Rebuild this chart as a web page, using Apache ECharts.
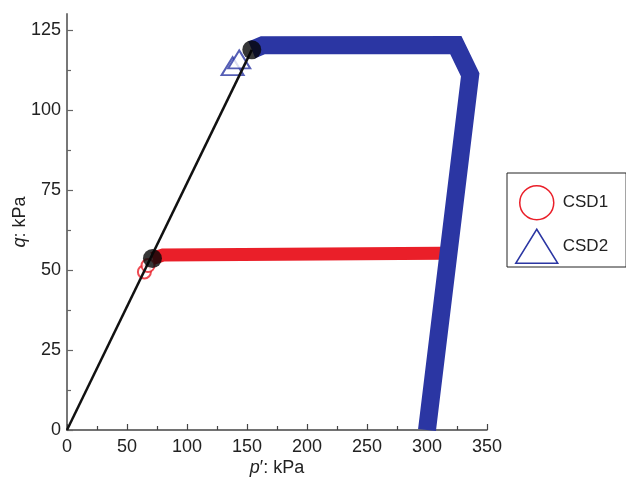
<!DOCTYPE html>
<html>
<head>
<meta charset="utf-8">
<script src="https://cdn.jsdelivr.net/npm/echarts@6/dist/echarts.min.js"></script>
<style>
  html, body { margin: 0; padding: 0; background: #fff; }
  #chart { width: 626px; height: 485px; }
</style>
</head>
<body>
<div id="chart"></div>
<script>
// Stress paths in p'-q space (kPa)
const csd1StartP = [64.5, 67.5];
const csd1StartQ = [49.4, 51.4];
const csd1PathP = [71.2, 80, 312];
const csd1PathQ = [53.6, 54.7, 55.2];

const csd2StartP = [138, 143.5];
const csd2StartQ = [113.7, 115.8];
const csd2PathP = [154, 163, 324, 336, 300];
const csd2PathQ = [118.8, 120.2, 120.3, 111, 0];

// Critical state line and peak points
const cslP = [0, 154];
const cslQ = [0, 118.8];
const peakP = [71.2, 154];
const peakQ = [53.6, 118.8];

// Axis ticks
const xTicks = [0, 50, 100, 150, 200, 250, 300, 350];
const yTicks = [0, 25, 50, 75, 100, 125];

const pairs = (xs, ys) => xs.map((x, i) => [x, ys[i]]);

const RED = '#ea1f29';
const BLUE = '#2b36a3';
const FONT = 'Liberation Sans, Arial, sans-serif';

const chart = echarts.init(document.getElementById('chart'), null, { renderer: 'canvas' });

chart.setOption({
  backgroundColor: '#fff',
  animation: false,
  textStyle: { fontFamily: FONT },
  grid: { left: 67, right: 139, top: 14, bottom: 55, containLabel: false, outerBoundsMode: 'none' },
  legend: {
    orient: 'vertical',
    left: 507,
    top: 173,
    borderColor: '#222',
    borderWidth: 1,
    padding: [12, 18, 3, 8],
    itemWidth: 42,
    itemHeight: 34,
    itemGap: 8,
    textStyle: { fontSize: 17, color: '#222', fontFamily: FONT },
    data: [
      { name: 'CSD1', icon: 'circle',
        itemStyle: { color: 'rgba(255,255,255,0)', borderColor: RED, borderWidth: 1.5 } },
      { name: 'CSD2', icon: 'triangle',
        itemStyle: { color: 'rgba(255,255,255,0)', borderColor: BLUE, borderWidth: 1.5 } }
    ]
  },
  xAxis: {
    type: 'value',
    min: 0,
    max: 350,
    interval: 50,
    name: '{i|p}\u2032: kPa',
    nameLocation: 'middle',
    nameGap: 29,
    nameMoveOverlap: false,
    nameTextStyle: {
      fontSize: 18, color: '#222', fontFamily: FONT,
      rich: { i: { fontStyle: 'italic', fontSize: 18, color: '#222', fontFamily: FONT } }
    },
    axisLine: { lineStyle: { color: '#444', width: 1.5 } },
    axisTick: { inside: true, length: 6, lineStyle: { color: '#444', width: 1.2 }, customValues: xTicks },
    minorTick: { show: true, splitNumber: 2, length: 4, lineStyle: { color: '#444', width: 1.2 } },
    axisLabel: { fontSize: 18, color: '#222', margin: 8, customValues: xTicks },
    splitLine: { show: false }
  },
  yAxis: {
    type: 'value',
    min: 0,
    max: 130,
    interval: 25,
    name: '{i|q}: kPa',
    nameLocation: 'middle',
    nameGap: 38,
    nameMoveOverlap: false,
    nameRotate: 90,
    nameTextStyle: {
      fontSize: 18, color: '#222', fontFamily: FONT,
      rich: { i: { fontStyle: 'italic', fontSize: 18, color: '#222', fontFamily: FONT } }
    },
    axisLine: { lineStyle: { color: '#777', width: 2 } },
    axisTick: { inside: true, length: 6, lineStyle: { color: '#666', width: 1.2 }, customValues: yTicks },
    minorTick: { show: true, splitNumber: 2, length: 4, lineStyle: { color: '#666', width: 1.2 } },
    axisLabel: { fontSize: 18, color: '#222', margin: 6, customValues: yTicks },
    splitLine: { show: false }
  },
  series: [
    {
      name: 'CSD1',
      type: 'line',
      data: pairs(csd1PathP, csd1PathQ),
      symbol: 'none',
      clip: true,
      lineStyle: { color: RED, width: 13, cap: 'butt', join: 'miter' },
      itemStyle: { color: RED },
      z: 2
    },
    {
      name: 'CSD1',
      type: 'scatter',
      data: pairs(csd1StartP, csd1StartQ),
      symbol: 'emptyCircle',
      symbolSize: 13,
      itemStyle: { color: RED, borderColor: RED, borderWidth: 1.2 },
      z: 2
    },
    {
      name: 'CSD2',
      type: 'line',
      data: pairs(csd2PathP, csd2PathQ),
      symbol: 'none',
      clip: true,
      lineStyle: { color: BLUE, width: 18, cap: 'butt', join: 'miter' },
      itemStyle: { color: BLUE },
      z: 3
    },
    {
      name: 'CSD2',
      type: 'scatter',
      data: pairs(csd2StartP, csd2StartQ),
      symbol: 'emptyTriangle',
      symbolSize: [22, 18],
      itemStyle: { color: BLUE, borderColor: BLUE, borderWidth: 1.2 },
      z: 3
    },
    {
      name: 'CSL',
      type: 'line',
      data: pairs(cslP, cslQ),
      symbol: 'none',
      lineStyle: { color: '#111', width: 2.5 },
      z: 5
    },
    {
      name: 'Peak',
      type: 'scatter',
      data: pairs(peakP, peakQ),
      symbol: 'circle',
      symbolSize: 19,
      itemStyle: { color: '#050505' },
      z: 6
    }
  ]
});
</script>
</body>
</html>
